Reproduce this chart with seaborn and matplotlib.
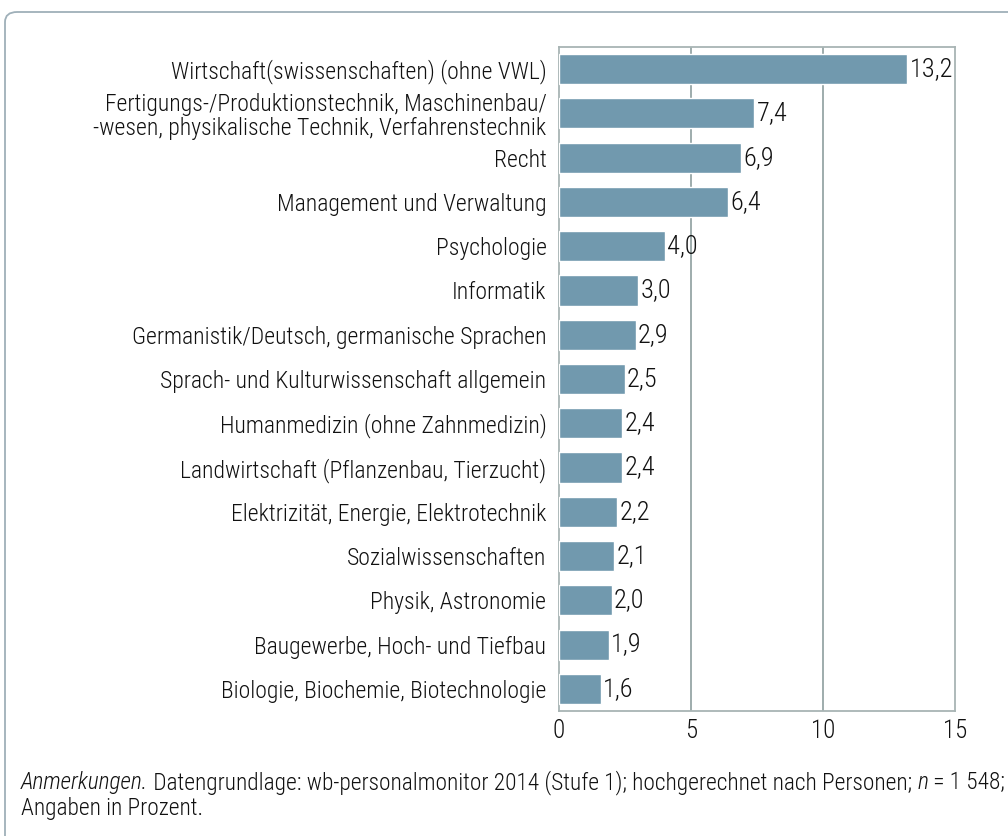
import matplotlib.pyplot as plt
import matplotlib.patches as mpatches
from matplotlib import font_manager
import pandas as pd
import seaborn as sns

# Data
categories = [
    "Wirtschaft(swissenschaften) (ohne VWL)",
    "Fertigungs-/Produktionstechnik, Maschinenbau/\n-wesen, physikalische Technik, Verfahrenstechnik",
    "Recht",
    "Management und Verwaltung",
    "Psychologie",
    "Informatik",
    "Germanistik/Deutsch, germanische Sprachen",
    "Sprach- und Kulturwissenschaft allgemein",
    "Humanmedizin (ohne Zahnmedizin)",
    "Landwirtschaft (Pflanzenbau, Tierzucht)",
    "Elektrizität, Energie, Elektrotechnik",
    "Sozialwissenschaften",
    "Physik, Astronomie",
    "Baugewerbe, Hoch- und Tiefbau",
    "Biologie, Biochemie, Biotechnologie",
]
values = [13.2, 7.4, 6.9, 6.4, 4.0, 3.0, 2.9, 2.5, 2.4, 2.4, 2.2, 2.1, 2.0, 1.9, 1.6]
xticks = [0, 5, 10, 15]

df = pd.DataFrame({"Fach": categories, "Anteil": values})

sns.set_style("white")

# pick a narrow font if one is there
names = {f.name for f in font_manager.fontManager.ttflist}
stretch = "normal"
family = "DejaVu Sans"
for cand in ["Liberation Sans Narrow", "Roboto Condensed", "Open Sans Condensed", "DejaVu Sans Condensed"]:
    if cand in names:
        family = cand
        break
else:
    condensed = [f for f in font_manager.fontManager.ttflist
                 if f.name == "DejaVu Sans" and f.stretch in ("condensed", "semi-condensed", 300, 400)]
    if condensed:
        stretch = "condensed"
    else:
        family = "Roboto"

plt.rcParams['font.family'] = [family, 'DejaVu Sans']
plt.rcParams['font.stretch'] = stretch
plt.rcParams['font.weight'] = 'light'
plt.rcParams['text.color'] = '#111111'
plt.rcParams['xtick.color'] = '#111111'
plt.rcParams['ytick.color'] = '#111111'

fig = plt.figure(figsize=(10.08, 8.36), dpi=100)
ax = fig.add_axes([559 / 1008, 1 - 711 / 836, (955 - 559) / 1008, (711 - 47) / 836])

# rounded frame around the figure
frame = mpatches.FancyBboxPatch((5 / 1008, -0.05), 1.1, 1 - 12 / 836 + 0.05,
                                boxstyle="round,pad=0,rounding_size=0.012",
                                transform=fig.transFigure, fill=False,
                                edgecolor="#9fb0b9", linewidth=1.3, zorder=0)
fig.patches.append(frame)

sns.barplot(data=df, x="Anteil", y="Fach", color="#7199ae", width=0.68,
            saturation=1, ax=ax, zorder=3)

fs = 17
for i, v in enumerate(values):
    ax.text(v + 0.08, i, f"{v:.1f}".replace(".", ","), va="center", ha="left",
            fontsize=19, zorder=4)

ax.set_xlim(0, 15)
ax.set_xticks(xticks)
ax.set_xticklabels([str(t) for t in xticks], fontsize=18)
ax.tick_params(axis="x", length=0, pad=6)
ax.tick_params(axis="y", length=0, pad=9, labelsize=fs)
ax.set_xlabel("")
ax.set_ylabel("")
for x in [5, 10]:
    ax.axvline(x, color="#8e9e9e", linewidth=1.2, zorder=1)
for s in ax.spines.values():
    s.set_color("#a8b4b4")
    s.set_linewidth(1.3)

for lab in ax.get_yticklabels():
    lab.set_linespacing(1.05)

# footnote, written as runs so the italic parts sit inline
renderer = fig.canvas.get_renderer()
runs = [
    ("Anmerkungen.", "italic"),
    (" Datengrundlage: wb-personalmonitor 2014 (Stufe 1); hochgerechnet nach Personen; ", "normal"),
    ("n", "italic"),
    (" = 1 548;", "normal"),
]
x0 = 21
for txt, st in runs:
    t = fig.text(x0 / 1008, 1 - 789 / 836, txt, style=st, fontsize=16.8,
                 va="baseline", ha="left")
    x0 = t.get_window_extent(renderer).x1
fig.text(21 / 1008, 1 - 815 / 836, "Angaben in Prozent.", fontsize=16.8,
         va="baseline", ha="left")

fig.savefig("out.png", dpi=100)
